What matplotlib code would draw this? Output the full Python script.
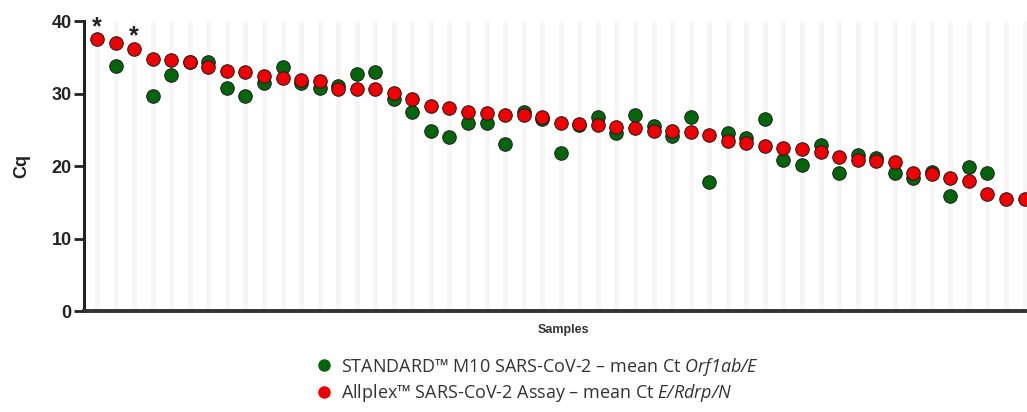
import matplotlib
matplotlib.use("Agg")
import matplotlib.pyplot as plt
from matplotlib.lines import Line2D
import numpy as np

plt.rcParams["font.family"] = ["Liberation Sans", "DejaVu Sans"]
plt.rcParams["mathtext.fontset"] = "custom"
plt.rcParams["mathtext.it"] = "Open Sans:italic"
plt.rcParams["mathtext.rm"] = "Open Sans:italic"

GREEN = "#05650a"
RED = "#f00000"
INK = "#222222"

# mean Ct per sample (sorted by Allplex value); nan = not detected
allplex = [37.5, 36.9, 36.2, 34.7, 34.6, 34.3, 33.6, 33.1, 32.9, 32.4,
           32.1, 31.9, 31.7, 30.6, 30.6, 30.6, 30.1, 29.2, 28.3, 28.0,
           27.4, 27.3, 27.1, 27.0, 26.8, 26.0, 25.8, 25.7, 25.4, 25.3,
           24.9, 24.8, 24.7, 24.3, 23.4, 23.2, 22.8, 22.5, 22.4, 22.0,
           21.3, 20.8, 20.7, 20.6, 19.0, 18.9, 18.3, 18.0, 16.2, 15.4,
           15.4]
standard = [np.nan, 33.8, np.nan, 29.6, 32.5, 34.4, 34.3, 30.7, 29.6, 31.4,
            33.7, 31.4, 30.7, 31.1, 32.7, 33.0, 29.2, 27.5, 24.8, 24.0,
            26.0, 26.0, 23.0, 27.4, 26.5, 21.8, 25.7, 26.7, 24.6, 27.1,
            25.5, 24.1, 26.7, 17.8, 24.5, 23.8, 26.5, 20.8, 20.1, 22.9,
            19.0, 21.5, 21.1, 19.0, 18.3, 19.2, 15.9, 19.8, 19.1, np.nan,
            np.nan]
starred = [0, 2]

x = np.arange(len(allplex))

fig = plt.figure(figsize=(10.27, 4.12), dpi=100)
ax = fig.add_axes([0.0818, 0.245, 0.9182, 0.704])

for xi in x:
    ax.axvline(xi, color="#f6f6f6", linewidth=3.5, zorder=0)

ax.scatter(x, standard, s=95, color=GREEN, edgecolor="#1a1a1a", linewidth=0.7, zorder=3)
ax.scatter(x, allplex, s=95, color=RED, edgecolor="#1a1a1a", linewidth=0.7, zorder=4)

for i in starred:
    ax.annotate("*", (x[i], allplex[i]), xytext=(0, 0), textcoords="offset points",
                ha="center", va="bottom", fontsize=18, fontweight="bold", color=INK)

ax.set_xlim(-0.7, 50.13)
ax.set_ylim(0, 40)
ax.set_yticks([0, 10, 20, 30, 40])
ax.set_xticks([])
ax.tick_params(axis="y", direction="out", length=7, width=2, color=INK,
               labelsize=13, labelcolor=INK, pad=2)
for lab in ax.get_yticklabels():
    lab.set_fontweight("bold")
for side in ["top", "right"]:
    ax.spines[side].set_visible(False)
ax.spines["left"].set_linewidth(2.2)
ax.spines["left"].set_color(INK)
ax.spines["bottom"].set_linewidth(2.8)
ax.spines["bottom"].set_color("#333333")

ax.set_ylabel("Cq", fontsize=13, fontweight="bold", color=INK, labelpad=15)
ax.set_xlabel("Samples", fontsize=9, fontweight="bold", color="#333333")
ax.xaxis.set_label_coords(0.508, -0.045)

handles = [
    Line2D([], [], marker="o", linestyle="none", markersize=8, color=GREEN,
           markeredgecolor=GREEN),
    Line2D([], [], marker="o", linestyle="none", markersize=8, color=RED,
           markeredgecolor=RED),
]
labels = [
    r"STANDARD™ M10 SARS-CoV-2 – mean Ct $\mathrm{Orf1ab/E}$",
    r"Allplex™ SARS-CoV-2 Assay – mean Ct $\mathrm{E/Rdrp/N}$",
]
fig.legend(handles, labels, loc="upper left", bbox_to_anchor=(0.289, 0.176),
           frameon=False, handletextpad=0.35, labelspacing=0.25, handlelength=1.2,
           prop={"family": "Open Sans", "size": 13}, labelcolor="#333333")

fig.savefig("out.png", dpi=100)
